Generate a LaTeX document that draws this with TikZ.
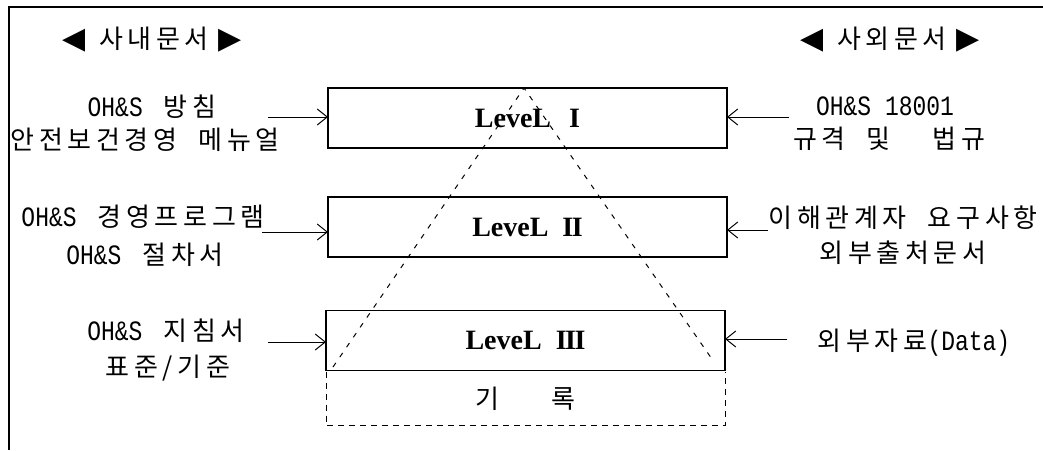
\documentclass[tikz,border=0pt]{standalone}
\usepackage{fontspec}
\usetikzlibrary{arrows.meta}
\setmainfont{Liberation Serif}
\newfontfamily\kr{Noto Sans CJK KR}[LetterSpace=18,WordSpace=2]
\newfontfamily\latf{Liberation Mono}[FakeStretch=0.82]
\newcommand{\lat}{\latf\fontsize{28}{30}\selectfont}
\newfontfamily\sym{DejaVu Sans}
\newcommand{\lt}{{\sym\fontsize{30}{30}\selectfont ◀}}
\newcommand{\rt}{{\sym\fontsize{30}{30}\selectfont ▶}}
\tikzset{
  lvbox/.style={draw, line width=1.2pt, minimum width=399pt, minimum height=60pt, inner sep=0pt, outer sep=0pt,
    font=\fontsize{28}{30}\selectfont\bfseries},
  txt/.style={inner sep=0pt, font=\kr\fontsize{26}{30}\selectfont},
  arr/.style={-{Straight Barb[length=10pt,width=16pt]}, line width=1pt},
  tri/.style={dash pattern=on 5pt off 7pt, line width=1pt},
  recline/.style={dash pattern=on 6pt off 5pt, line width=1pt}
}
\begin{document}
\begin{tikzpicture}[x=1pt,y=-1pt]
\useasboundingbox (0,0) rectangle (1043,450);
% frame
\coordinate (fb) at (9,450);
\coordinate (ftl) at (9,7);
\coordinate (ftr) at (1043,7);
\draw[line width=1.2pt] (fb) -- (ftl) -- (ftr);

% headers
\node[txt] (hin) at (152,40) {\lt\hspace{14pt}사내문서\hspace{10pt}\rt};
\node[txt] (hout) at (890,40) {\lt\hspace{14pt}사외문서\hspace{10pt}\rt};

% level boxes
\node[lvbox] (L1) at (527.5,118) {LeveL\hspace{18pt}I};
\node[lvbox] (L2) at (527.5,227) {LeveL\hspace{14pt}I\kern-1.5ptI};
\node[lvbox] (L3) at (525.5,340.5) {LeveL\hspace{14pt}I\kern-1.5ptI\kern-1.5ptI};

% record box (dashed)
\node[inner sep=0pt, outer sep=0pt, minimum width=399pt, minimum height=54pt] (rec) at (525.5,398.5) {};
\draw[recline] (rec.north west) -- (rec.south west) -- (rec.south east) -- (rec.north east);
\node[txt] (rectxt) at (rec.center) {기\hspace{52pt}록};

% dashed triangle
\coordinate (apex) at (524,88);
\coordinate (tl) at (333,367);
\coordinate (tr) at (714,362);
\draw[tri] (tl) -- (apex) -- (tr);

% left texts
\node[txt] (l1a) at (152,107) {{\lat OH\&S} 방침};
\node[txt] (l1b) at (145,140) {안전보건경영 메뉴얼};
\node[txt] (l2a) at (143,217) {{\lat OH\&S} 경영프로그램};
\node[txt] (l2b) at (145,255) {{\lat OH\&S} 절차서};
\node[txt] (l3a) at (166,331) {{\lat OH\&S} 지침서};
\node[txt] (l3b) at (168,368) {표준/기준};

% right texts
\node[txt] (r1a) at (885,106) {{\lat OH\&S 18001}};
\node[txt] (r1b) at (889,139) {규격 및\ \ 법규};
\node[txt] (r2a) at (903,218) {이해관계자 요구사항};
\node[txt] (r2b) at (903,253) {외부출처문서};
\node[txt] (r3a) at (914,343) {외부자료{\lat (Data)}};

% left arrows
\coordinate (la1) at (268,117);
\coordinate (la2) at (262,232);
\coordinate (la3) at (268,342);
\draw[arr] (la1) -- (la1 -| L1.west);
\draw[arr] (la2) -- (la2 -| L2.west);
\draw[arr] (la3) -- (la3 -| L3.west);

% right arrows
\coordinate (ra1) at (789,117);
\coordinate (ra2) at (768,230);
\coordinate (ra3) at (787,339);
\draw[arr] (ra1) -- (ra1 -| L1.east);
\draw[arr] (ra2) -- (ra2 -| L2.east);
\draw[arr] (ra3) -- (ra3 -| L3.east);
\end{tikzpicture}
\end{document}
